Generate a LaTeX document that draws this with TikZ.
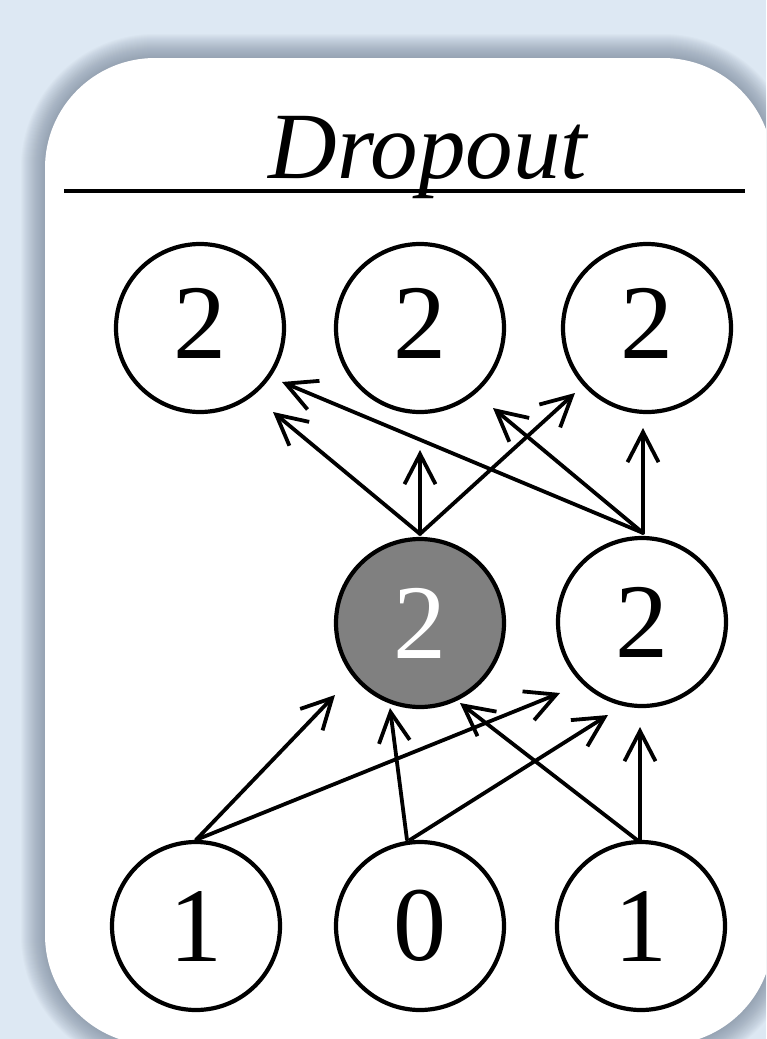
\documentclass[tikz,border=0pt]{standalone}
\usepackage{fontspec}
\setmainfont{Liberation Serif}
\usetikzlibrary{arrows.meta,calc}
\definecolor{pagebg}{RGB}{221,232,243}
\definecolor{shadowc}{RGB}{105,120,140}
\definecolor{unitgray}{RGB}{128,128,128}
\tikzset{
  unit/.style={circle, draw=black, line width=4.2pt, minimum size=168pt,
    inner sep=0pt, fill=white, font=\fontsize{106}{106}\selectfont},
  dropped/.style={unit, fill=unitgray, text=white},
  link/.style={line width=3.8pt, line cap=round,
    -{Straight Barb[length=30pt,width=31pt]}},
}
\newcommand{\liftdigit}[1]{\raisebox{5pt}[\height][\depth]{#1}}
\begin{document}
\begin{tikzpicture}[x=1pt,y=-1pt]
\useasboundingbox (0,0) rectangle (766,1039);
\clip (0,0) rectangle (766,1039);
\fill[pagebg] (0,0) rectangle (766,1039);

% soft shadow around the card
\foreach \s in {1,...,24}{
  \fill[shadowc, opacity=0.03, rounded corners={(110+\s)*1pt}]
    (45-\s,58-\s) rectangle (773+\s,1045+\s);
}
% card
\fill[white, rounded corners=110pt] (45,58) rectangle (773,1045);

% heading
\node[anchor=base, inner sep=0pt, font=\itshape\fontsize{95}{95}\selectfont]
  (title) at (428,178) {Dropout};
\coordinate (ruleL) at (64,191);
\coordinate (ruleR) at (745,191);
\draw[line width=4pt] (ruleL) -- (ruleR);

% units
\node[unit] (t1) at (200,328) {\liftdigit{2}};
\node[unit] (t2) at (420,328) {\liftdigit{2}};
\node[unit] (t3) at (647,328) {\liftdigit{2}};
\node[dropped] (m1) at (420,623) {2};
\node[unit] (m2) at (642,622) {2};
\node[unit] (b1) at (196,926) {1};
\node[unit] (b2) at (420,926) {0};
\node[unit] (b3) at (641,926) {1};

% input layer to hidden layer
\draw[link] (b1.north) -- ($(m1)+(-85,72)$);
\draw[link] (b1.north) -- ($(m2)+(-82,71)$);
\draw[link] ($(b2.north)+(-13,0)$) -- ($(m1)+(-30,85)$);
\draw[link] ($(b2.north)+(-10,0)$) -- ($(m2)+(-34,93)$);
\draw[link] ($(b3.north)+(-4,0)$) -- ($(m1)+(40,80)$);
\draw[link] ($(b3.north)+(-1,0)$) -- ($(m2)+(-2,105)$);

% hidden layer to output layer
\draw[link] ($(m1.north)+(0,-3)$) -- ($(t1)+(73,84)$);
\draw[link] ($(m1.north)+(0,-3)$) -- ($(t2)+(0,122)$);
\draw[link] ($(m1.north)+(0,-3)$) -- ($(t3)+(-72,65)$);
\draw[link] ($(m2.north)+(1,-3)$) -- ($(t1)+(82,54)$);
\draw[link] ($(m2.north)+(1,-3)$) -- ($(t2)+(73,80)$);
\draw[link] ($(m2.north)+(1,-3)$) -- ($(t3)+(-4,100)$);
\end{tikzpicture}
\end{document}
